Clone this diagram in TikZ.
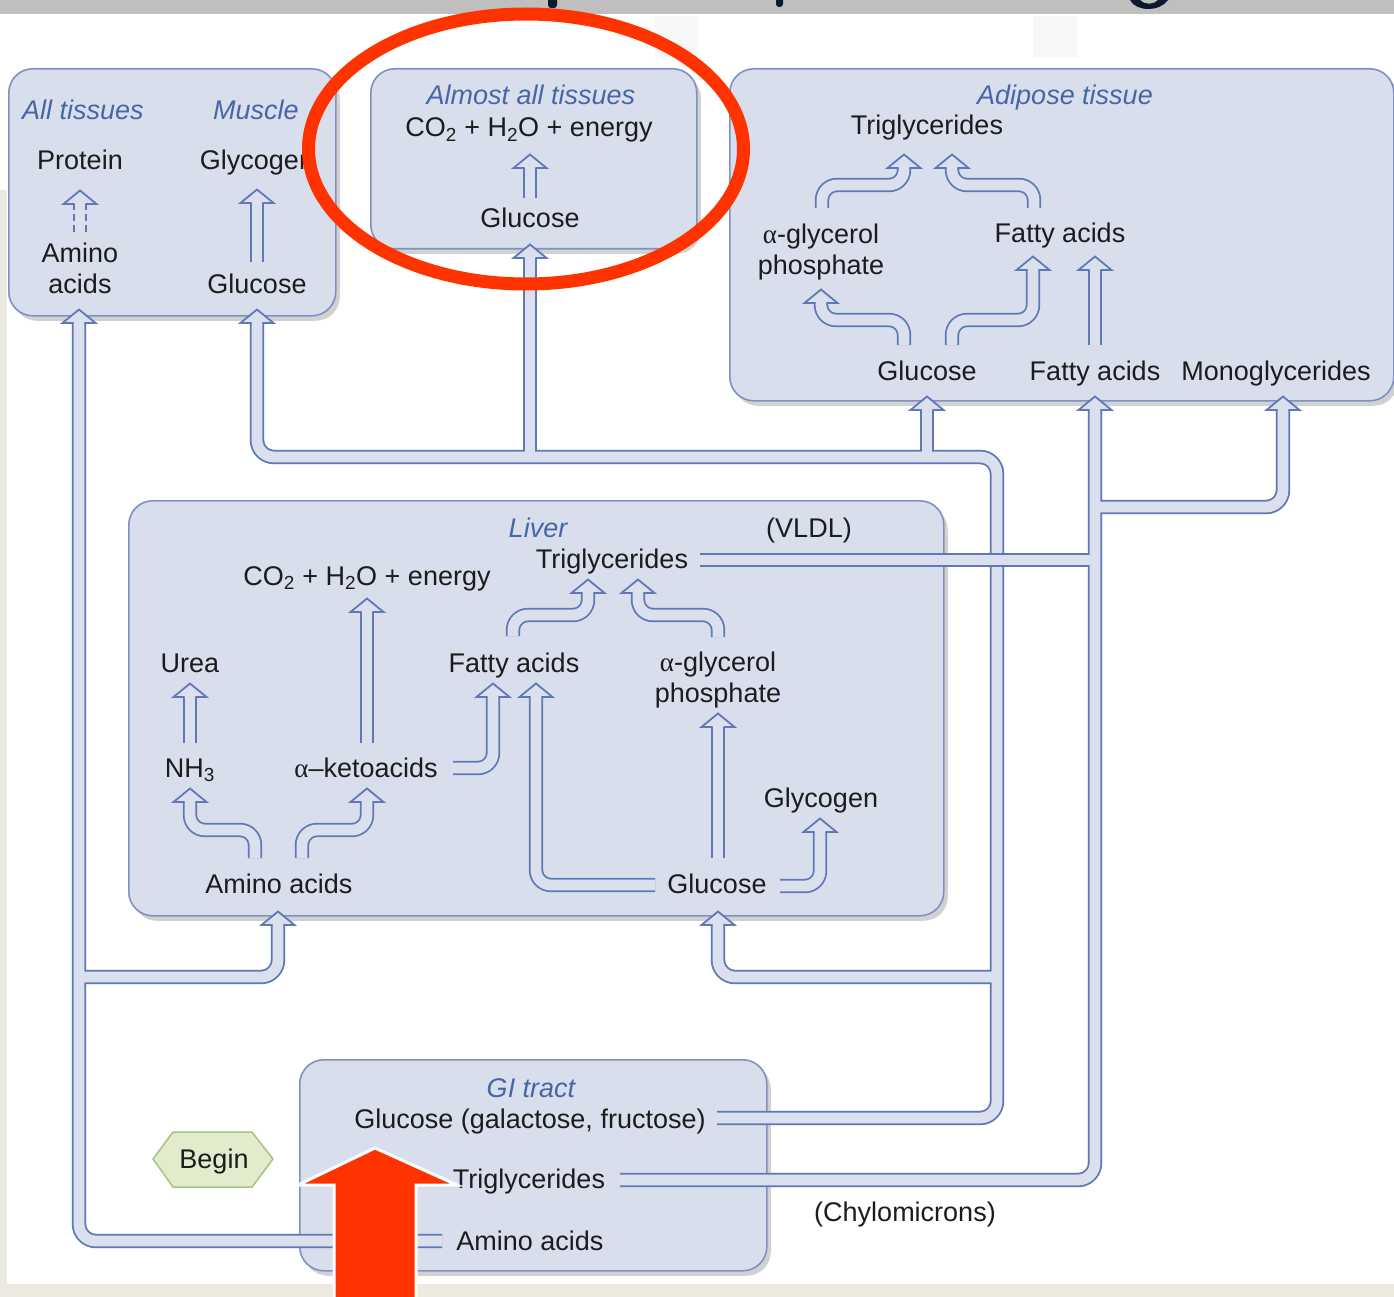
\documentclass[tikz,border=0pt]{standalone}
\usepackage{fontspec}
\setmainfont{Liberation Sans}
\newfontfamily\grk{Liberation Serif}
\usetikzlibrary{shadows}
\definecolor{boxfill}{RGB}{217,222,237}
\definecolor{boxline}{RGB}{128,144,192}
\definecolor{pline}{RGB}{96,121,181}
\definecolor{pfill}{RGB}{219,224,239}
\definecolor{ital}{RGB}{72,101,166}
\definecolor{txt}{RGB}{28,28,28}
\definecolor{redc}{RGB}{255,51,0}
\definecolor{beginfill}{RGB}{226,235,203}
\definecolor{beginline}{RGB}{169,194,127}
\definecolor{bargray}{RGB}{191,191,191}
\definecolor{titlec}{RGB}{12,26,46}
\definecolor{edgebeige}{RGB}{236,234,224}
\newcommand\alp{{\grk α}}
\tikzset{
  box/.style={draw=boxline, line width=1.6pt, fill=boxfill, rounded corners=24pt, inner sep=0pt, anchor=north west,
    drop shadow={shadow xshift=4pt, shadow yshift=-5pt, opacity=0.18, fill=black}},
  lbl/.style={font=\fontsize{27}{31}\selectfont, text=txt, inner sep=0pt, anchor=base},
  mlbl/.style={font=\fontsize{27}{31}\selectfont, text=txt, inner sep=0pt, anchor=center, align=center},
  ttl/.style={font=\fontsize{27}{31}\selectfont\itshape, text=ital, inner sep=0pt, anchor=base},
  pout/.style={draw=pline, line width=14.4pt, line cap=butt, line join=round},
  pin/.style={draw=pfill, line width=10.8pt, line cap=butt, line join=round},
  psh/.style={draw=black!16, line width=14.4pt, line cap=butt, line join=round, shift={(3,4)}},
  ext/.style={rounded corners=17pt},
  int/.style={rounded corners=15pt},
  uphead/.pic={
    \fill[pfill] (-16.5,0) -- (0,-13.5) -- (16.5,0) -- cycle;
    \draw[pline, line width=1.8pt, line join=miter] (-5.4,0) -- (-16.5,0) -- (0,-13.5) -- (16.5,0) -- (5.4,0);
  }
}
\newcommand\extpipes[1]{%
  \draw[#1,ext] (pAmS) -- (pAmC) -- (hAll);
  \draw[#1,ext] (jAm) -- (cAm) -- (hLivA);
  \draw[#1,ext] (pGlS) -- (cGlA) -- (cGlB) -- (cGlC) -- (hMus);
  \draw[#1,ext] (jGlB) -- (hAlm);
  \draw[#1,ext] (jGlC) -- (hAdG);
  \draw[#1,ext] (jGlD) -- (cGlD) -- (hLivG);
  \draw[#1,ext] (pTgS) -- (cTg) -- (hAdF);
  \draw[#1,ext] (jMg) -- (cMg) -- (hAdM);
}
\newcommand\intarrows[1]{%
  \draw[#1] (sM2) -- (hM2);
  \draw[#1] (sM3) -- (hM3);
  \draw[#1,int] (sA1) -- ++(0,-25) -| (hA1);
  \draw[#1,int] (sA2) -- ++(0,-25) -| (hA2);
  \draw[#1] (sA3) -- (hA3);
  \draw[#1,int] (sA4) -- ++(0,-23) -| (hA4);
  \draw[#1,int] (sA5) -- ++(0,-23) -| (hA5);
  \draw[#1,int] (sL1) -- ++(0,-28) -| (hL1);
  \draw[#1,int] (sL2) -- ++(0,-28) -| (hL2);
  \draw[#1] (sL3) -- (hL3);
  \draw[#1] (sL4) -- (hL4);
  \draw[#1,int] (sL5) -| (hL5);
  \draw[#1,int] (sL6) -| (hL6);
  \draw[#1,int] (sL7) -- ++(0,-21) -| (hL7);
  \draw[#1,int] (sL8) -- ++(0,-22) -| (hL8);
  \draw[#1] (sL9) -- (hL9);
  \draw[#1,int] (sL10) -| (hL10);
}
\begin{document}
\begin{tikzpicture}[x=1pt,y=-1pt]
\useasboundingbox (0,0) rectangle (1394,1297);
% background
\fill[white] (0,0) rectangle (1394,1297);
\fill[edgebeige] (0,190) rectangle (7,1290);
\fill[edgebeige] (0,1284) rectangle (1394,1297);
\fill[black!3] (655,16) rectangle (698,57);
\fill[black!3] (1033,16) rectangle (1078,57);
\fill[bargray] (0,0) rectangle (1394,14);
\fill[titlec, rounded corners=3pt] (548,-6) rectangle (557,8);
\fill[titlec, rounded corners=3pt] (776,-6) rectangle (783,7);
\fill[titlec] (1130,0) .. controls (1136,12) and (1160,12) .. (1168,0) -- (1158,0) .. controls (1154,5) and (1144,5) .. (1140,0) -- cycle;

% boxes
\node[box, minimum width=327pt, minimum height=247pt] (bxA) at (8,68) {};
\node[box, minimum width=326pt, minimum height=180pt] (bxB) at (370,68) {};
\node[box, minimum width=664pt, minimum height=332pt] (bxC) at (729,68) {};
\node[box, minimum width=815pt, minimum height=415pt] (bxD) at (128,500) {};
\node[box, minimum width=467pt, minimum height=211pt] (bxE) at (299,1059) {};
% begin hexagon
\draw[beginline, fill=beginfill, line width=1.5pt] (153,1159) -- (173,1132) -- (252,1132) -- (273,1159) -- (252,1187) -- (173,1187) -- cycle;

% external pipe coordinates
\coordinate (pAmS) at (442,1241);
\coordinate (pAmC) at (79,1241);
\coordinate (hAll) at (79,323);
\coordinate (jAm) at (79,977);
\coordinate (cAm) at (278,977);
\coordinate (hLivA) at (278,925);
\coordinate (pGlS) at (717,1118);
\coordinate (cGlA) at (997,1118);
\coordinate (cGlB) at (997,457);
\coordinate (cGlC) at (257,457);
\coordinate (hMus) at (257,323);
\coordinate (jGlB) at (530,457);
\coordinate (hAlm) at (530,258);
\coordinate (jGlC) at (927,457);
\coordinate (hAdG) at (927,410);
\coordinate (jGlD) at (997,977);
\coordinate (cGlD) at (718,977);
\coordinate (hLivG) at (718,925);
\coordinate (pTgS) at (620,1180);
\coordinate (cTg) at (1095,1180);
\coordinate (hAdF) at (1095,410);
\coordinate (jMg) at (1095,507);
\coordinate (cMg) at (1283,507);
\coordinate (hAdM) at (1283,410);
\coordinate (pVlS) at (700,560);
\coordinate (pVlE) at (1088,560);
\coordinate (pVlJ) at (1095,560);

\extpipes{psh}
\draw[psh] (pVlS) -- (pVlE);
\extpipes{pout}
\extpipes{pin}
\draw[pout] (pVlS) -- (pVlE);
\draw[pin] (pVlS) -- (pVlJ);
\foreach \h in {hAll,hLivA,hMus,hAlm,hAdG,hLivG,hAdF,hAdM} {\pic at (\h) {uphead};}

% internal arrow coordinates
\coordinate (sM1) at (80,232);  \coordinate (hM1) at (80,204);
\coordinate (sM2) at (257,262); \coordinate (hM2) at (257,203);
\coordinate (sM3) at (530,198); \coordinate (hM3) at (530,168);
\coordinate (sA1) at (904,345); \coordinate (hA1) at (821,303);
\coordinate (sA2) at (952,345); \coordinate (hA2) at (1033,270);
\coordinate (sA3) at (1095,345); \coordinate (hA3) at (1095,270);
\coordinate (sA4) at (822,208); \coordinate (hA4) at (904,168);
\coordinate (sA5) at (1034,208); \coordinate (hA5) at (952,168);
\coordinate (sL1) at (255,858); \coordinate (hL1) at (190,802);
\coordinate (sL2) at (302,858); \coordinate (hL2) at (367,802);
\coordinate (sL3) at (190,743); \coordinate (hL3) at (190,697);
\coordinate (sL4) at (367,743); \coordinate (hL4) at (367,612);
\coordinate (sL5) at (453,768); \coordinate (hL5) at (493,697);
\coordinate (sL6) at (655,885); \coordinate (hL6) at (536,697);
\coordinate (sL7) at (513,636); \coordinate (hL7) at (588,593);
\coordinate (sL8) at (718,637); \coordinate (hL8) at (638,593);
\coordinate (sL9) at (718,858); \coordinate (hL9) at (718,727);
\coordinate (sL10) at (780,886); \coordinate (hL10) at (820,832);

\draw[pout, dash pattern=on 7pt off 4pt] (sM1) -- (hM1);
\draw[pin] (sM1) -- (hM1);
\intarrows{pout}
\intarrows{pin}
\foreach \h in {hM1,hM2,hM3,hA1,hA2,hA3,hA4,hA5,hL1,hL2,hL3,hL4,hL5,hL6,hL7,hL8,hL9,hL10} {\pic at (\h) {uphead};}

% texts: all tissues / muscle
\node[ttl] (tAll) at (83,120) {All tissues};
\node[ttl] (tMus) at (256,120) {Muscle};
\node[lbl] (protein) at (80,170) {Protein};
\node[lbl] (glycM) at (257,170) {Glycogen};
\node[mlbl] (aminoA) at (80,268) {Amino\\acids};
\node[lbl] (glucM) at (257,293) {Glucose};
% almost all tissues
\node[ttl] (tAlm) at (531,105) {Almost all tissues};
\node[lbl] (co2B) at (529,137) {CO\textsubscript{2} + H\textsubscript{2}O + energy};
\node[lbl] (glucB) at (530,228) {Glucose};
% adipose
\node[ttl] (tAdi) at (1065,105) {Adipose tissue};
\node[lbl] (tgC) at (927,135) {Triglycerides};
\node[mlbl] (agpC) at (821,252) {\alp-glycerol\\phosphate};
\node[lbl] (faC1) at (1060,243) {Fatty acids};
\node[lbl] (glucC) at (927,380) {Glucose};
\node[lbl] (faC2) at (1095,380) {Fatty acids};
\node[lbl] (mgC) at (1276,380) {Monoglycerides};
% liver
\node[ttl] (tLiv) at (538,537) {Liver};
\node[lbl] (vldl) at (809,537) {(VLDL)};
\node[lbl] (tgD) at (612,568) {Triglycerides};
\node[lbl] (co2D) at (367,585) {CO\textsubscript{2} + H\textsubscript{2}O + energy};
\node[lbl] (urea) at (190,672) {Urea};
\node[lbl] (faD) at (514,672) {Fatty acids};
\node[mlbl] (agpD) at (718,680) {\alp-glycerol\\phosphate};
\node[lbl] (nh3) at (190,777) {NH\textsubscript{3}};
\node[lbl] (keto) at (366,777) {\alp–ketoacids};
\node[lbl] (glycD) at (821,807) {Glycogen};
\node[lbl] (aminoD) at (279,893) {Amino acids};
\node[lbl] (glucD) at (717,893) {Glucose};
% GI tract
\node[ttl] (tGI) at (531,1097) {GI tract};
\node[lbl] (glucE) at (530,1128) {Glucose (galactose, fructose)};
\node[lbl] (tgE) at (529,1188) {Triglycerides};
\node[lbl] (aminoE) at (530,1250) {Amino acids};
\node[lbl] (chylo) at (905,1221) {(Chylomicrons)};
\node[lbl] (begin) at (214,1168) {Begin};

% red highlights
\draw[redc, line width=13pt] (526,149) ellipse [x radius=217.5pt, y radius=135pt];
\fill[redc] (334,1297) -- (334,1185) -- (298,1185) -- (375,1148) -- (457,1185) -- (416,1185) -- (416,1297) -- cycle;
\draw[white, line width=3pt, line join=miter] (334,1297) -- (334,1185) -- (298,1185) -- (375,1148) -- (457,1185) -- (416,1185) -- (416,1297);
\end{tikzpicture}
\end{document}
